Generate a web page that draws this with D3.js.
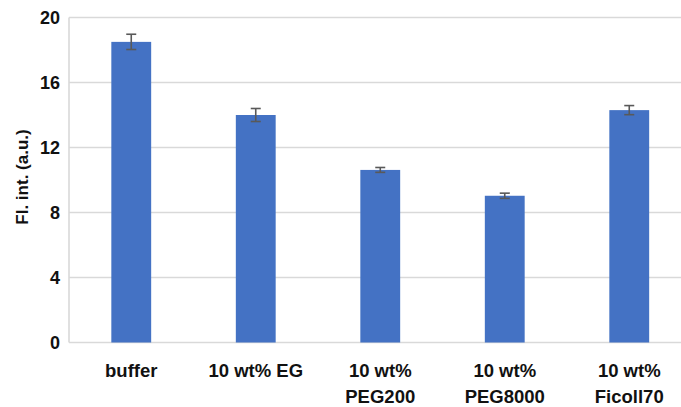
<!DOCTYPE html>
<html>
<head>
<meta charset="utf-8">
<style>
  body { margin: 0; background: #fff; }
  svg { display: block; font-family: "Liberation Sans", Arial, sans-serif; font-weight: bold; }
</style>
</head>
<body>
<svg width="681" height="407"></svg>
<script src="https://d3js.org/d3.v7.min.js"></script>
<script>

// data
var categories = ["buffer", "10 wt% EG", "10 wt%\nPEG200", "10 wt%\nPEG8000", "10 wt%\nFicoll70"];
var values = [18.5, 14.0, 10.62, 9.03, 14.3];
var errors = [0.47, 0.4, 0.15, 0.16, 0.28];
var yTicks = [0, 4, 8, 12, 16, 20];

var svg = d3.select("svg");

var plotLeft = 69, plotRight = 691.5, plotTop = 17.5, plotBottom = 342.5;

var x = d3.scaleBand()
    .domain(categories)
    .range([plotLeft, plotRight]);

var y = d3.scaleLinear()
    .domain([0, 20])
    .range([plotBottom, plotTop]);

var barW = x.bandwidth() * 0.32;

// gridlines
svg.append("g")
  .selectAll("line")
  .data(yTicks)
  .enter().append("line")
    .attr("x1", plotLeft)
    .attr("x2", plotRight)
    .attr("y1", function(d) { return y(d); })
    .attr("y2", function(d) { return y(d); })
    .attr("stroke", "#d9d9d9")
    .attr("stroke-width", 1.6);

svg.append("line")
    .attr("x1", plotLeft).attr("x2", plotLeft)
    .attr("y1", y(20)).attr("y2", y(0))
    .attr("stroke", "#d9d9d9")
    .attr("stroke-width", 1.6);

// y tick labels
svg.append("g")
  .selectAll("text")
  .data(yTicks)
  .enter().append("text")
    .attr("x", 60)
    .attr("y", function(d) { return y(d); })
    .attr("dy", "0.36em")
    .attr("text-anchor", "end")
    .attr("font-size", 18)
    .attr("fill", "#111")
    .text(function(d) { return d; });

// bars
svg.append("g")
  .selectAll("rect")
  .data(categories)
  .enter().append("rect")
    .attr("x", function(d) { return x(d) + x.bandwidth() / 2 - barW / 2; })
    .attr("y", function(d, i) { return y(values[i]); })
    .attr("width", barW)
    .attr("height", function(d, i) { return y(0) - y(values[i]); })
    .attr("fill", "#4472c4");

// error bars
var err = svg.append("g")
    .attr("stroke", "#595959")
    .attr("stroke-width", 1.6)
  .selectAll("g")
  .data(categories)
  .enter().append("g")
    .attr("transform", function(d) { return "translate(" + (x(d) + x.bandwidth() / 2) + ",0)"; });

err.append("line")
    .attr("y1", function(d, i) { return y(values[i] + errors[i]); })
    .attr("y2", function(d, i) { return y(values[i] - errors[i]); });

err.append("line")
    .attr("x1", -5).attr("x2", 5)
    .attr("y1", function(d, i) { return y(values[i] + errors[i]); })
    .attr("y2", function(d, i) { return y(values[i] + errors[i]); });

err.append("line")
    .attr("x1", -5).attr("x2", 5)
    .attr("y1", function(d, i) { return y(values[i] - errors[i]); })
    .attr("y2", function(d, i) { return y(values[i] - errors[i]); });

// x labels
svg.append("g")
  .selectAll("text")
  .data(categories)
  .enter().append("text")
    .attr("text-anchor", "middle")
    .attr("font-size", 18.5)
    .attr("fill", "#111")
    .attr("transform", function(d) { return "translate(" + (x(d) + x.bandwidth() / 2) + ",377)"; })
  .selectAll("tspan")
    .data(function(d) { return d.split("\n"); })
    .enter().append("tspan")
      .attr("x", 0)
      .attr("y", function(d, i) { return i * 26; })
      .text(function(d) { return d; });

// y axis title
svg.append("text")
    .attr("transform", "translate(28,177) rotate(-90)")
    .attr("text-anchor", "middle")
    .attr("font-size", 17)
    .attr("fill", "#111")
    .text("Fl. int. (a.u.)");

</script>
</body>
</html>
